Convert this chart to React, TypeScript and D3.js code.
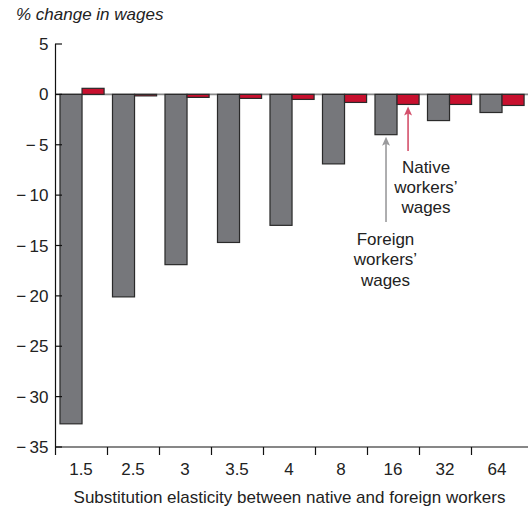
import React from "react";
import * as d3 from "d3";

const categories = ["1.5", "2.5", "3", "3.5", "4", "8", "16", "32", "64"];
const foreignWages = [-32.7, -20.1, -16.9, -14.7, -13.0, -6.9, -4.0, -2.6, -1.8];
const nativeWages = [0.6, -0.15, -0.3, -0.4, -0.5, -0.8, -1.0, -1.0, -1.1];
const yTicks = [5, 0, -5, -10, -15, -20, -25, -30, -35];
const yTitle = "% change in wages";
const xTitle = "Substitution elasticity between native and foreign workers";
const nativeLabel = ["Native", "workers\u2019", "wages"];
const foreignLabel = ["Foreign", "workers\u2019", "wages"];
const annotatedCategory = "16";

const W = 528;
const H = 510;
const FONT = "'Liberation Sans', Arial, Helvetica, sans-serif";
const GRAY = "#76777b";
const RED = "#c8102e";
const STROKE = "#2a2a2a";

function fmt(v: number) {
  if (v < 0) return "\u2212\u2009" + Math.abs(v);
  return String(v);
}

export default function App() {
  const y = d3.scaleLinear().domain([-35, 5]).range([447, 44]);
  const xAxis = d3.scaleBand<string>().domain(categories).range([55, 523]);
  const xBar = d3.scaleBand<string>().domain(categories).range([55, 527.5]);
  const bw = xBar.bandwidth();
  const off = bw * 0.095;
  const barW = bw * 0.42;

  const i16 = categories.indexOf(annotatedCategory);
  const grayX = (xBar(annotatedCategory) as number) + off + barW / 2;
  const redX = (xBar(annotatedCategory) as number) + off + barW * 1.5;
  const grayTip = y(foreignWages[i16]) + 2;
  const redTip = y(nativeWages[i16]) + 2;

  const arrowHead = (x: number, tip: number, color: string) =>
    `M${x},${tip} L${x - 4},${tip + 9} L${x},${tip + 7} L${x + 4},${tip + 9} Z`;

  return (
    <svg
      width={W}
      height={H}
      style={{ position: "absolute", left: 0, top: 0, background: "#fff" }}
      fontFamily={FONT}
    >
      <rect x={0} y={0} width={W} height={H} fill="#fff" />
      <text x={16} y={20} fontSize={17} fontStyle="italic" fill="#222">
        {yTitle}
      </text>

      {/* zero line */}
      <line x1={55} x2={528} y1={y(0)} y2={y(0)} stroke="#8a8a8a" strokeWidth={1.6} />

      {/* bars */}
      {categories.map((c, i) => {
        const x0 = xBar(c) as number;
        const fv = foreignWages[i];
        const nv = nativeWages[i];
        return (
          <g key={c}>
            <rect
              x={x0 + off}
              y={Math.min(y(0), y(fv))}
              width={barW}
              height={Math.abs(y(fv) - y(0))}
              fill={GRAY}
              stroke={STROKE}
              strokeWidth={1.2}
            />
            <rect
              x={x0 + off + barW}
              y={Math.min(y(0), y(nv))}
              width={barW}
              height={Math.max(1, Math.abs(y(nv) - y(0)))}
              fill={RED}
              stroke={STROKE}
              strokeWidth={1.2}
            />
          </g>
        );
      })}

      {/* y axis */}
      <line x1={55.5} x2={55.5} y1={y(5)} y2={y(-35)} stroke="#111" strokeWidth={1.2} />
      {yTicks.map((t) => (
        <g key={t}>
          <line x1={55} x2={62} y1={y(t)} y2={y(t)} stroke="#111" strokeWidth={1.2} />
          <text x={48.5} y={y(t) + 6} fontSize={17} textAnchor="end" fill="#222">
            {fmt(t)}
          </text>
        </g>
      ))}

      {/* x axis */}
      <line x1={55} x2={528} y1={y(-35)} y2={y(-35)} stroke="#111" strokeWidth={1.2} />
      {categories.map((c) => {
        const x0 = xAxis(c) as number;
        return (
          <g key={c}>
            <line x1={x0 + 0.5} x2={x0 + 0.5} y1={y(-35)} y2={y(-35) + 8} stroke="#111" strokeWidth={1.2} />
            <text x={x0 + xAxis.bandwidth() / 2} y={475} fontSize={17} textAnchor="middle" fill="#222">
              {c}
            </text>
          </g>
        );
      })}
      <text x={289.5} y={503} fontSize={17} textAnchor="middle" fill="#222">
        {xTitle}
      </text>

      {/* annotations */}
      <line x1={grayX} x2={grayX} y1={222} y2={grayTip + 6} stroke="#9a9a9c" strokeWidth={1.6} />
      <path d={arrowHead(grayX, grayTip, "#9a9a9c")} fill="#9a9a9c" />
      <line x1={redX} x2={redX} y1={151} y2={redTip + 6} stroke="#d4506b" strokeWidth={1.6} />
      <path d={arrowHead(redX, redTip, "#d4506b")} fill="#d4506b" />

      {nativeLabel.map((s, i) => (
        <text key={s} x={426} y={172.5 + i * 20.3} fontSize={17} textAnchor="middle" fill="#222">
          {s}
        </text>
      ))}
      {foreignLabel.map((s, i) => (
        <text key={s} x={385.5} y={245 + i * 20.3} fontSize={17} textAnchor="middle" fill="#222">
          {s}
        </text>
      ))}
    </svg>
  );
}
